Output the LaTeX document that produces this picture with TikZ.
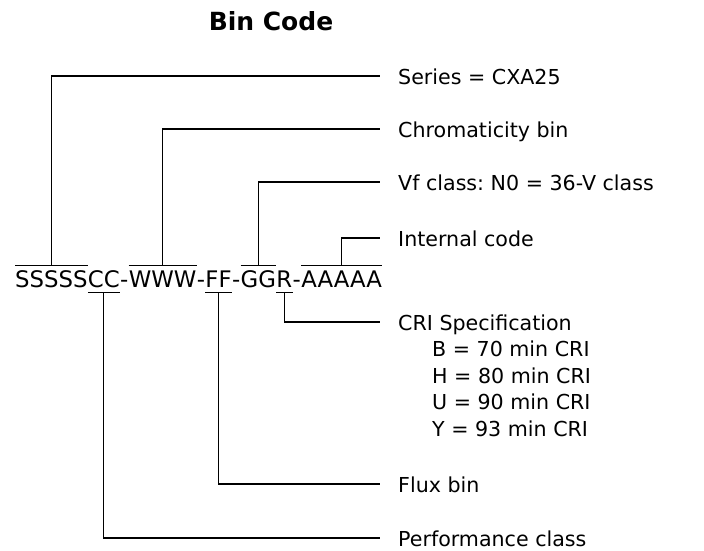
\documentclass[tikz,border=0pt]{standalone}
\usepackage{fontspec}
\setmainfont{DejaVu Sans}
\usetikzlibrary{positioning}
\tikzset{
  codepart/.style={inner sep=0pt, anchor=base west, font=\fontsize{22.8}{27}\selectfont,
    text height=21pt, text depth=5pt},
  lbl/.style={inner sep=0pt, anchor=west, font=\fontsize{20.6}{24}\selectfont,
    text height=16pt, text depth=0pt},
  bar/.style={line width=1.3pt},
  conn/.style={line width=1.1pt, shorten >=18pt},
}
\begin{document}
\begin{tikzpicture}[x=1pt,y=-1pt]
\useasboundingbox (0,0) rectangle (704,550);
% Titre
\node[font=\bfseries\fontsize{25}{30}\selectfont] (title) at (271,21) {Bin Code};
% Code
\node[codepart] (cs) at (15,287) {SSSSS};
\node[codepart] (cc) at (cs.base east) {CC};
\node[codepart] (d1) at (cc.base east) {-};
\node[codepart] (cw) at (d1.base east) {WWW};
\node[codepart] (d2) at (cw.base east) {-};
\node[codepart] (cf) at (d2.base east) {FF};
\node[codepart] (d3) at (cf.base east) {-};
\node[codepart] (cg) at (d3.base east) {GG};
\node[codepart] (cr) at (cg.base east) {R};
\node[codepart] (d4) at (cr.base east) {-};
\node[codepart] (ca) at (d4.base east) {AAAAA};
% Barres
\foreach \p in {cs,cw,cg,ca} \draw[bar] (\p.north west) -- (\p.north east);
\foreach \p in {cc,cf,cr} \draw[bar] (\p.south west) -- (\p.south east);
% Légendes
\node[lbl] (lser) at (398,76) {Series = CXA25};
\node[lbl] (lchr) at (398,129) {Chromaticity bin};
\node[lbl] (lvf) at (398,182) {Vf class:\ N0 = 36-V class};
\node[lbl] (lint) at (398,238) {Internal code};
\node[lbl] (lcri) at (398,322) {CRI Specification};
\foreach \t [count=\i] in {B = 70 min CRI, H = 80 min CRI, U = 90 min CRI, Y = 93 min CRI}
  \node[lbl] (lcri\i) at (432,{322+26.6*\i}) {\t};
\node[lbl] (lflux) at (398,484) {Flux bin};
\node[lbl] (lperf) at (398,538) {Performance class};
% Liaisons
\draw[conn] (cs.north) |- (lser.west);
\draw[conn] (cw.north) |- (lchr.west);
\draw[conn] (cg.north) |- (lvf.west);
\draw[conn] (ca.north) |- (lint.west);
\draw[conn] (cr.south) |- (lcri.west);
\draw[conn] (cf.south) |- (lflux.west);
\draw[conn] (cc.south) |- (lperf.west);
\end{tikzpicture}
\end{document}
